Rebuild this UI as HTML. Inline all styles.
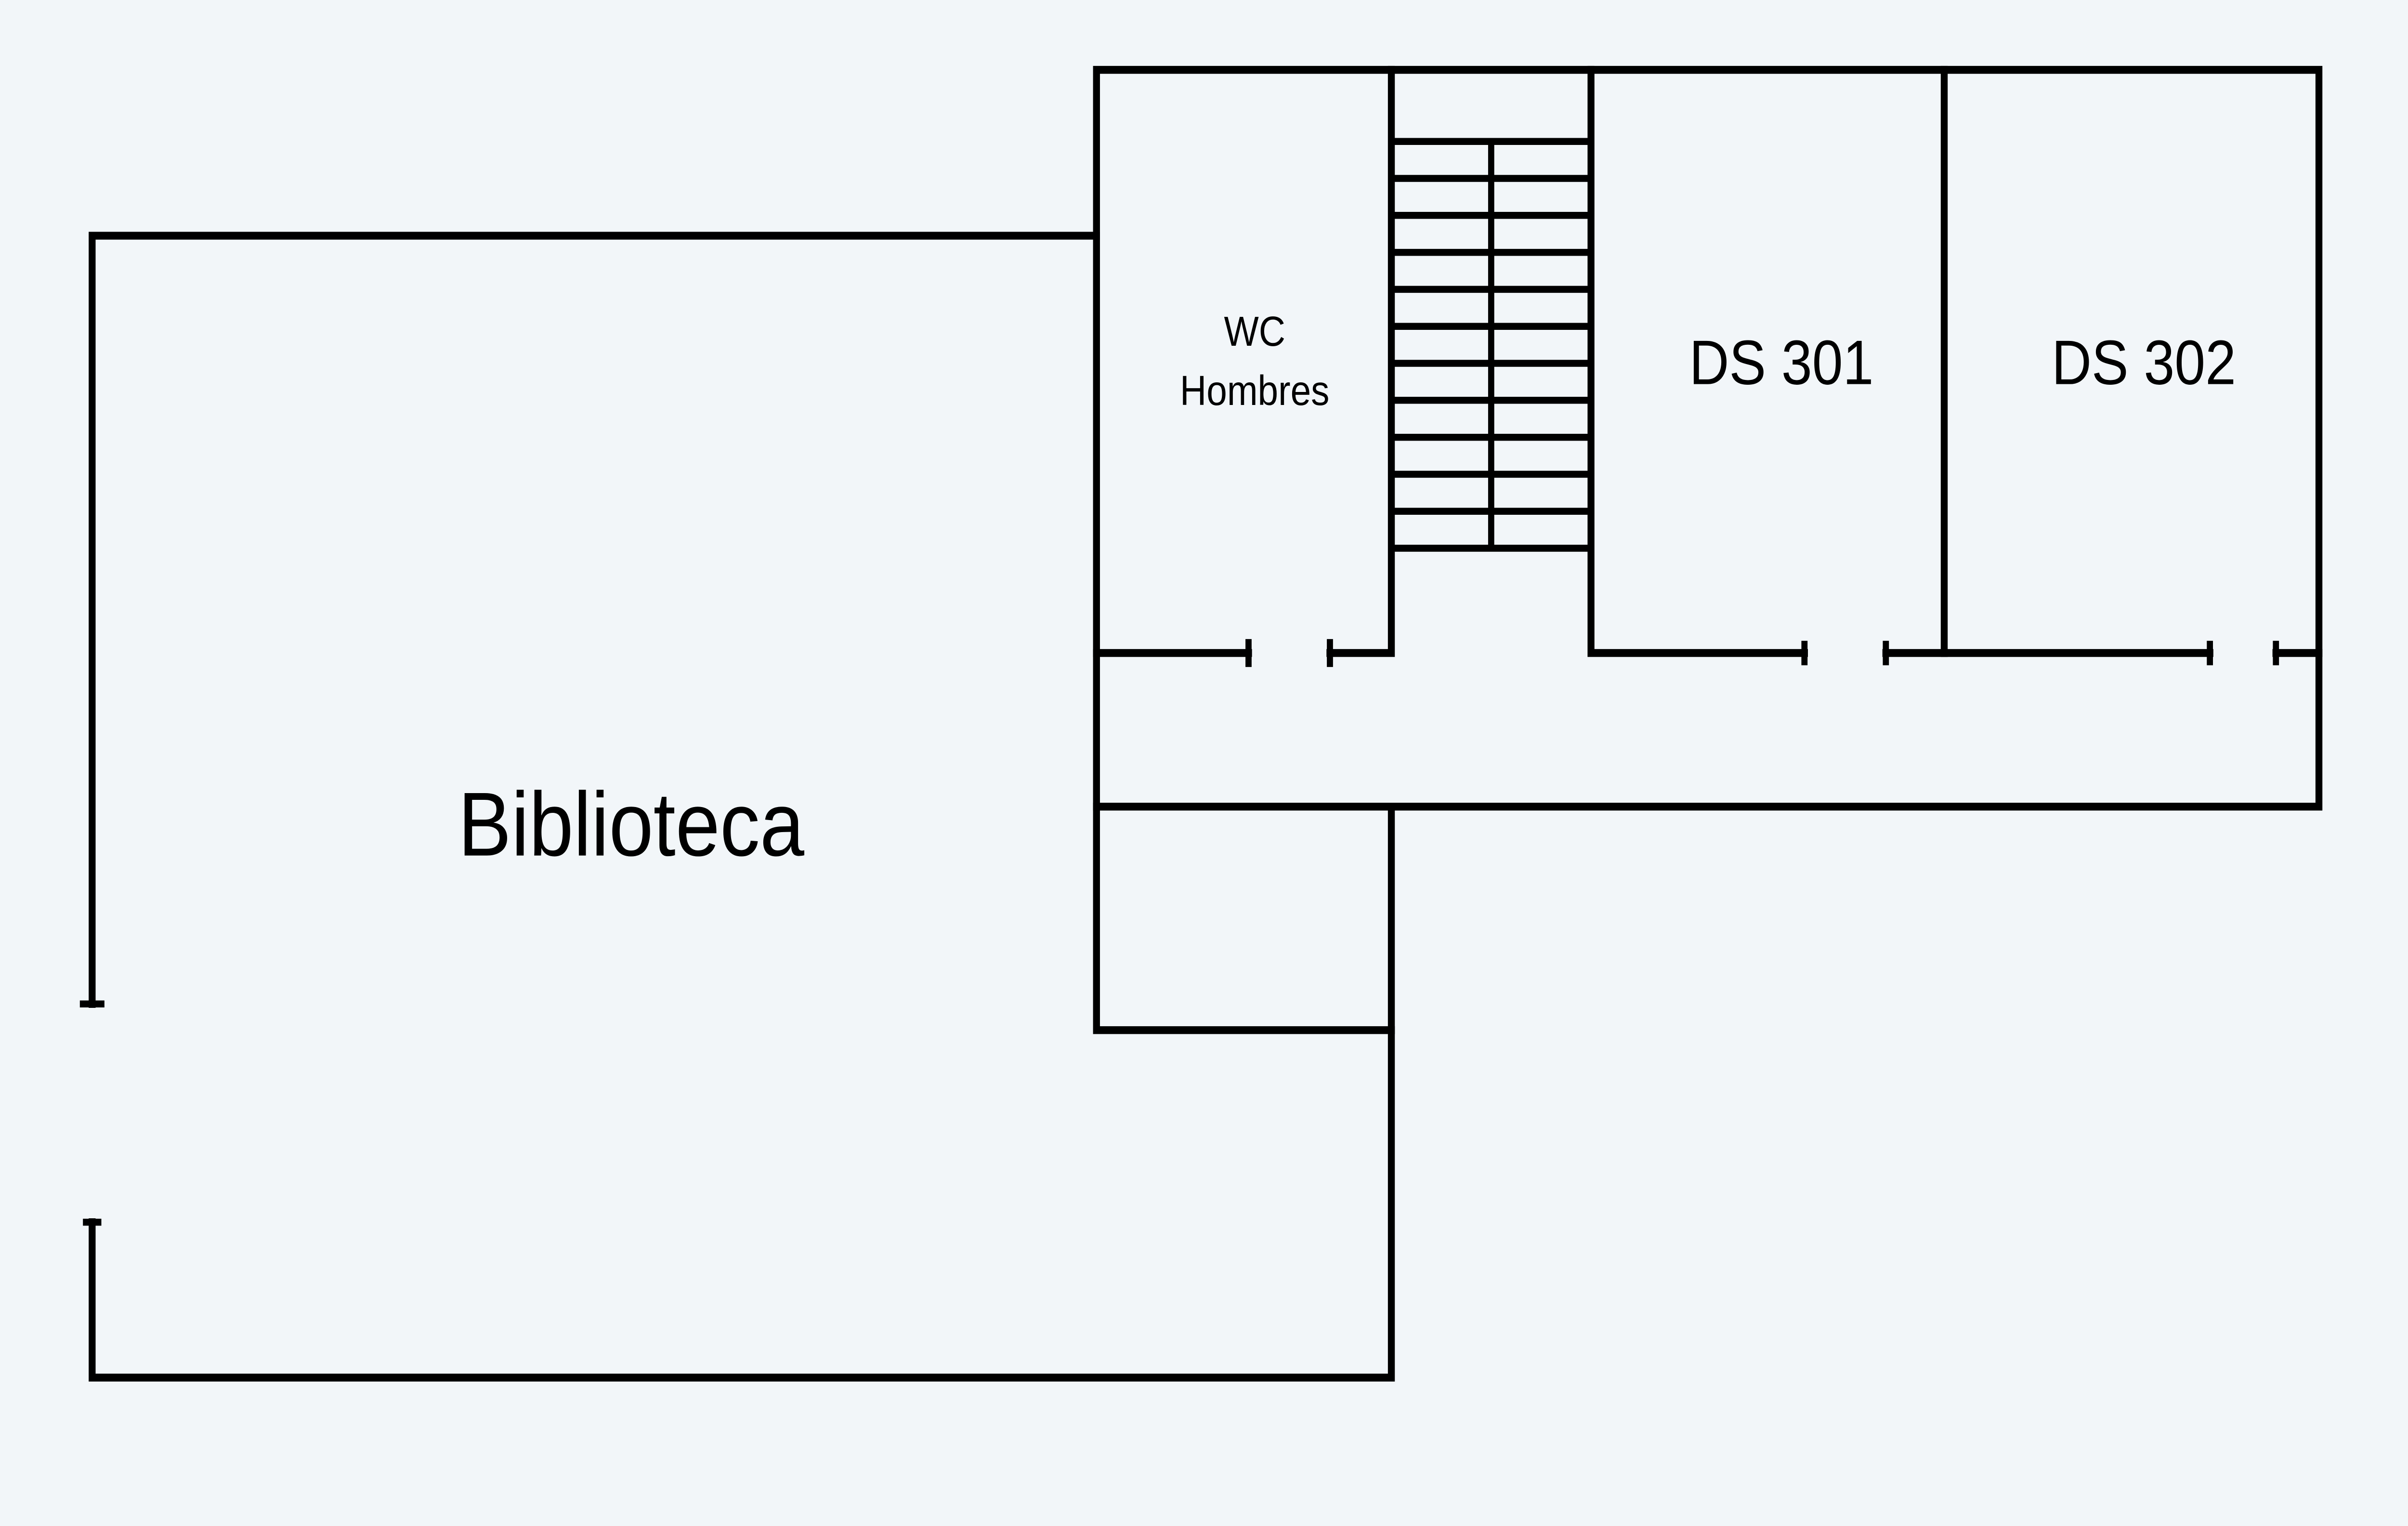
<!DOCTYPE html>
<html><head><meta charset="utf-8"><style>
html,body{margin:0;padding:0;background:#f2f6f9;width:100%;height:100%;overflow:hidden;}
svg{display:block;width:100vw;height:100vh;}
text{font-family:"Liberation Sans",sans-serif;fill:#000;text-anchor:middle;}
</style></head><body>
<svg viewBox="0 0 1568 874" preserveAspectRatio="none" xmlns="http://www.w3.org/2000/svg">
<rect width="1568" height="874" fill="#f2f6f9"/>
<g stroke="#000" stroke-width="4.5" fill="none" stroke-linecap="square">
  <polyline points="714,462 714,40 1510,40 1510,462 714,462"/>
  <polyline points="714,135 60,135 60,575"/>
  <polyline points="60,700 60,789 906,789 906,462"/>
  <polyline points="714,462 714,590 906,590"/>
  <line x1="714" y1="374" x2="813" y2="374"/>
  <polyline points="866,374 906,374 906,40"/>
  <polyline points="1036,40 1036,374 1175,374"/>
  <line x1="1266" y1="40" x2="1266" y2="374"/>
  <line x1="1228" y1="374" x2="1439" y2="374"/>
  <line x1="1482" y1="374" x2="1510" y2="374"/>
</g>
<g stroke="#000" stroke-width="4">
  <line x1="52" y1="575" x2="68" y2="575"/>
  <line x1="54" y1="700" x2="66" y2="700"/>
  <line x1="813" y1="366" x2="813" y2="382"/>
  <line x1="866" y1="366" x2="866" y2="382"/>
  <line x1="1175" y1="367" x2="1175" y2="381"/>
  <line x1="1228" y1="367" x2="1228" y2="381"/>
  <line x1="1439" y1="367" x2="1439" y2="381"/>
  <line x1="1482" y1="367" x2="1482" y2="381"/>
</g>
<g id="stairs" stroke="#000" stroke-width="4">
  <line x1="971" y1="81" x2="971" y2="314"/>
</g>
<text x="817" y="198" font-size="24">WC</text>
<text x="817" y="232" font-size="24">Hombres</text>
<text x="1160" y="220" font-size="36">DS 301</text>
<text x="1396" y="220" font-size="36">DS 302</text>
<text x="411" y="490" font-size="52">Biblioteca</text>
</svg>
<script>
const stepCount = [12];
const g = document.getElementById('stairs');
for (let i = 0; i < stepCount[0]; i++) {
  const y = 81 + i * (314 - 81) / (stepCount[0] - 1);
  const l = document.createElementNS('http://www.w3.org/2000/svg', 'line');
  l.setAttribute('x1', 906); l.setAttribute('x2', 1036);
  l.setAttribute('y1', y); l.setAttribute('y2', y);
  
  
  g.appendChild(l);
}
</script>
</body></html>
